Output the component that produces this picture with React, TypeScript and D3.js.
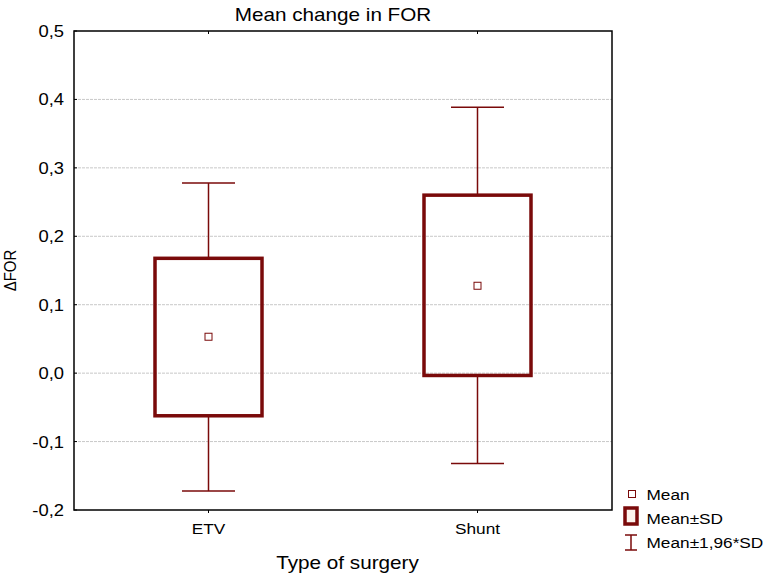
import React from "react";
import * as d3 from "d3";

const categories = ["ETV", "Shunt"];
const means = [0.0532, 0.1277];
const sdLow = [-0.0623, -0.0034];
const sdHigh = [0.1678, 0.2601];
const ciLow = [-0.1723, -0.1319];
const ciHigh = [0.2778, 0.3885];
const yTicks = [-0.2, -0.1, 0.0, 0.1, 0.2, 0.3, 0.4, 0.5];

const W = 773, H = 575;
const M = { left: 74, right: 612, top: 31, bottom: 510 };
const RED = "#7a0a0a";
const FONT = "Liberation Sans, Arial, Helvetica, sans-serif";
const SX = 1.15;

function T({ x, y, size, anchor = "start", children }: any) {
  return (
    <text transform={`translate(${x},${y}) scale(${SX},1)`} textAnchor={anchor} fontSize={size}>
      {children}
    </text>
  );
}

export default function App() {
  const y = d3.scaleLinear().domain([-0.2, 0.5]).range([M.bottom, M.top]);
  const x = d3.scalePoint<string>().domain(categories).range([M.left, M.right]).padding(0.5);
  const fmt = (v: number) => d3.format(".1f")(v).replace(".", ",").replace("−", "-");
  const boxW = 107;
  const capW = 53;

  return (
    <svg width={W} height={H} style={{ position: "absolute", left: 0, top: 0, background: "#fff" }} fontFamily={FONT}>
      <rect x={0} y={0} width={W} height={H} fill="#fff" />
      {yTicks.slice(1, -1).map((t) => (
        <line key={"g" + t} x1={M.left} x2={M.right} y1={y(t)} y2={y(t)} stroke="#c8c8c8" strokeWidth={1} strokeDasharray="3,1" />
      ))}
      {yTicks.map((t) => (
        <g key={"t" + t}>
          <line x1={M.left} x2={M.left + 3} y1={y(t)} y2={y(t)} stroke="#000" />
          <T x={M.left - 10} y={y(t) + 6} size={16} anchor="end">{fmt(t)}</T>
        </g>
      ))}
      {categories.map((c) => (
        <g key={"ct" + c}>
          <line x1={x(c)} x2={x(c)} y1={M.top} y2={M.top + 3} stroke="#000" />
          <line x1={x(c)} x2={x(c)} y1={M.bottom} y2={M.bottom + 3} stroke="#000" />
          <T x={x(c)} y={534} size={15} anchor="middle">{c}</T>
        </g>
      ))}
      {categories.map((c, i) => {
        const cx = x(c)!;
        return (
          <g key={"b" + c}>
            <line x1={cx} x2={cx} y1={y(ciHigh[i])} y2={y(sdHigh[i])} stroke={RED} strokeWidth={1.5} />
            <line x1={cx} x2={cx} y1={y(sdLow[i])} y2={y(ciLow[i])} stroke={RED} strokeWidth={1.5} />
            <line x1={cx - capW / 2} x2={cx + capW / 2} y1={y(ciHigh[i])} y2={y(ciHigh[i])} stroke={RED} strokeWidth={1.5} />
            <line x1={cx - capW / 2} x2={cx + capW / 2} y1={y(ciLow[i])} y2={y(ciLow[i])} stroke={RED} strokeWidth={1.5} />
            <rect x={cx - boxW / 2} y={y(sdHigh[i])} width={boxW} height={y(sdLow[i]) - y(sdHigh[i])} fill="none" stroke={RED} strokeWidth={3.5} />
            <rect x={cx - 3.5} y={y(means[i]) - 3.5} width={7} height={7} fill="#fff" stroke={RED} strokeWidth={1} />
          </g>
        );
      })}
      <rect x={M.left} y={M.top} width={M.right - M.left} height={M.bottom - M.top} fill="none" stroke="#000" strokeWidth={1.5} />
      <T x={333} y={20.5} size={18} anchor="middle">Mean change in FOR</T>
      <T x={347.5} y={569} size={18} anchor="middle">Type of surgery</T>
      <text transform={`translate(16,${270.5}) rotate(-90) scale(1,${SX})`} textAnchor="middle" fontSize={15}>ΔFOR</text>
      <rect x={628.5} y={490.5} width={7} height={7} fill="#fff" stroke={RED} strokeWidth={1} />
      <T x={646.5} y={499.5} size={15}>Mean</T>
      <rect x={625} y={508} width={12} height={16} fill="#fdf3ec" stroke={RED} strokeWidth={3.5} />
      <T x={646.5} y={523.5} size={15}>Mean±SD</T>
      <line x1={631} x2={631} y1={535} y2={550} stroke={RED} strokeWidth={1.5} />
      <line x1={625} x2={637} y1={535} y2={535} stroke={RED} strokeWidth={1.5} />
      <line x1={625} x2={637} y1={550} y2={550} stroke={RED} strokeWidth={1.5} />
      <T x={646.5} y={547.5} size={15}>Mean±1,96*SD</T>
    </svg>
  );
}
